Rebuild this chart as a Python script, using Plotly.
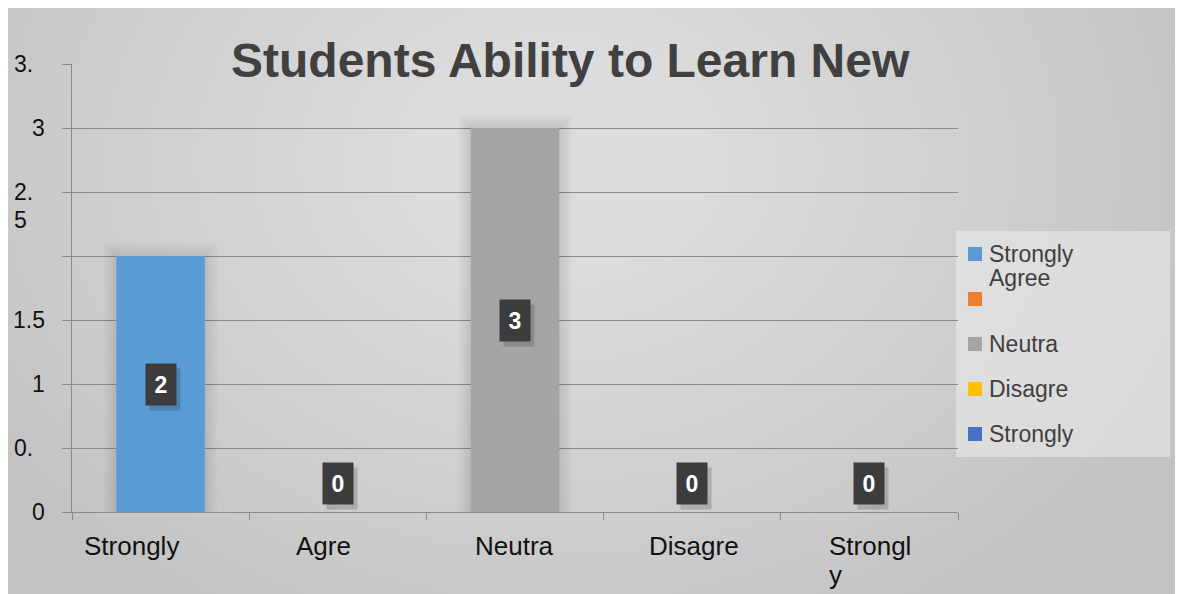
import plotly.graph_objects as go

# ---------------- data ----------------
categories = ["Strongly", "Agre", "Neutra", "Disagre", "Strongl\ny"]
series_names = ["Strongly Agree", "", "Neutra", "Disagre", "Strongly"]
values = [2, 0, 3, 0, 0]
y_tick_values = [0, 0.5, 1, 1.5, 2, 2.5, 3, 3.5]
y_tick_labels = ["0", "0.", "1", "1.5", "", "2.\n5", "3", "3."]
title_text = "Students Ability to Learn New"

# ---------------- style ----------------
colors = ["#5B9BD5", "#ED7D31", "#A5A5A5", "#FFC000", "#4472C4"]
OFF = 8                      # page offset of the plot div (body margin)
W, H = 1183 - OFF, 594 - OFF
# plot area in page pixels: x 72..958, y 64..512
L, T = 72 - OFF, 64 - OFF
PW, PH = 958 - 72, 512 - 64
R, B = W - L - PW, H - T - PH
FONT = "Liberation Sans, Arial, sans-serif"
GRID = "#8c8c8c"
TXT_DARK = "#404040"

y_label_anchor = ["right", "left", "right", "right", "right", "left", "right", "left"]
x_label_shift = [-79, -44, -42, -45, -42]


def px_x(px):
    """page pixel -> paper x"""
    return (px - OFF - L) / PW


def px_y(py):
    """page pixel -> paper y"""
    return (T + PH - (py - OFF)) / PH


fig = go.Figure()

for i, (name, v, c) in enumerate(zip(series_names, values, colors)):
    fig.add_trace(go.Bar(x=[i], y=[v], name=name, width=0.5,
                         marker=dict(color=c, line=dict(width=0)),
                         showlegend=False, hoverinfo="skip"))

shapes = []
# background gradient
shapes.append(dict(type="rect", xref="paper", yref="paper",
                   x0=px_x(0), x1=px_x(1300), y0=px_y(700), y1=px_y(0),
                   fillcolor="#c3c3c3", line=dict(width=0), layer="below"))
n = 26
for k in range(n):
    f = 1 - k / n
    rx, ry = 110 + 560 * f, 80 + 450 * f
    cx, cy = 560, 160
    shapes.append(dict(type="circle", xref="paper", yref="paper",
                       x0=px_x(cx - rx), x1=px_x(cx + rx),
                       y0=px_y(cy + ry), y1=px_y(cy - ry),
                       fillcolor="rgba(255,255,255,0.029)", line=dict(width=0), layer="below"))

# soft shadows around bars
ux = PW / 5.0
uy = PH / 3.5
for i, v in enumerate(values):
    if v <= 0:
        continue
    for k in range(1, 5):
        d = 3 * k
        shapes.append(dict(type="rect", xref="x", yref="y",
                           x0=i - 0.25 - d / ux, x1=i + 0.25 + d / ux,
                           y0=0, y1=v + d / uy,
                           fillcolor="rgba(0,0,0,0.022)", line=dict(width=0), layer="between"))

# legend (drawn manually)
lg_x0, lg_x1, lg_y0, lg_y1 = 956, 1170, 231, 457
shapes.append(dict(type="rect", xref="paper", yref="paper",
                   x0=px_x(lg_x0), x1=px_x(lg_x1), y0=px_y(lg_y1), y1=px_y(lg_y0),
                   fillcolor="rgba(236,236,236,0.55)", line=dict(width=0), layer="below"))

annotations = []


def add_text(lines, xpx, ypx, gap, anchor, size, color, bold=False, xref="paper", xval=None, xshift=0):
    for j, line in enumerate(lines):
        if line == "":
            continue
        t = "<b>%s</b>" % line if bold else line
        annotations.append(dict(
            text=t, xref=xref, yref="paper",
            x=(px_x(xpx) if xref == "paper" else xval), y=px_y(ypx + j * gap),
            xanchor=anchor, yanchor="middle", showarrow=False, xshift=xshift,
            font=dict(family=FONT, size=size, color=color), align=anchor))


row0, row_gap = 254, 45
for k, (name, c) in enumerate(zip(series_names, colors)):
    cy = row0 + k * row_gap
    shapes.append(dict(type="rect", xref="paper", yref="paper",
                       x0=px_x(968), x1=px_x(982), y0=px_y(cy + 7), y1=px_y(cy - 7),
                       fillcolor=c, line=dict(width=0), layer="above"))
    add_text(name.split(" "), 987, cy - 0.5, 24.5, "left", 23, TXT_DARK)

# y tick labels
for v, lab, anc in zip(y_tick_values, y_tick_labels, y_label_anchor):
    ypx = 512 - v * uy
    xpx = 47 if anc == "right" else 12
    add_text(lab.split("\n"), xpx, ypx, 28, anc, 23, "#111111")

# x category labels
for i, (lab, sh) in enumerate(zip(categories, x_label_shift)):
    add_text(lab.split("\n"), 0, 546, 29, "left", 26, "#111111", xref="x", xval=i, xshift=sh)

# title
add_text([title_text], 570.5, 60, 0, "center", 48, TXT_DARK, bold=True)

# value labels (dark boxes)
for i, v in enumerate(values):
    ylab = v / 2.0
    ysh = 29 if v == 0 else 0
    annotations.append(dict(text="", x=i, y=ylab, xref="x", yref="y", showarrow=False,
                            width=30, height=41, bgcolor="rgba(0,0,0,0.16)",
                            xshift=4, yshift=ysh - 5, borderpad=0))
    annotations.append(dict(text="<b>%d</b>" % v, x=i, y=ylab, xref="x", yref="y", showarrow=False,
                            width=30, height=41, bgcolor="#3c3c3c", xshift=0, yshift=ysh,
                            font=dict(family=FONT, size=23, color="#ffffff"), borderpad=0,
                            valign="middle"))

fig.update_layout(
    width=W, height=H, autosize=False,
    margin=dict(l=L, r=R, t=T, b=B, pad=0),
    paper_bgcolor="#c3c3c3",
    plot_bgcolor="rgba(0,0,0,0)",
    barmode="overlay",
    showlegend=False,
    shapes=shapes,
    annotations=annotations,
    xaxis=dict(range=[-0.5, 4.5], tickvals=[i - 0.5 for i in range(len(categories) + 1)],
               showticklabels=False, ticks="outside", ticklen=7, tickwidth=1.3, tickcolor=GRID,
               showgrid=False, zeroline=False, showline=True, linecolor=GRID, linewidth=1.3,
               fixedrange=True),
    yaxis=dict(range=[0, 3.5], tickvals=y_tick_values, showticklabels=False,
               ticks="outside", ticklen=9, tickwidth=1.3, tickcolor=GRID,
               showgrid=True, gridcolor=GRID, gridwidth=1.3, zeroline=False,
               showline=True, linecolor=GRID, linewidth=1.3, fixedrange=True),
)

fig.write_html("out.html", default_width="%dpx" % W, default_height="%dpx" % H)
